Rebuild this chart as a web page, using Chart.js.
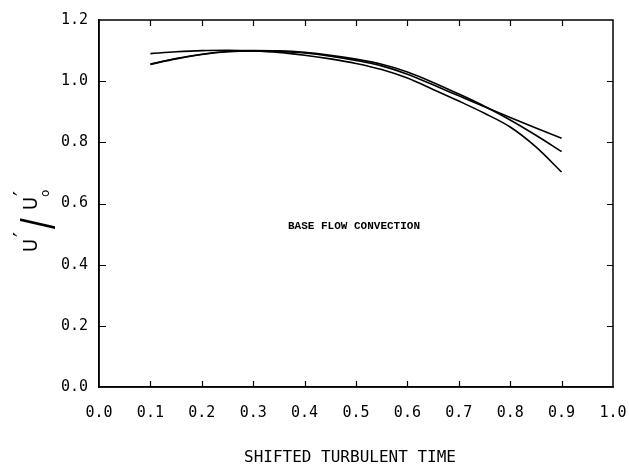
<!DOCTYPE html>
<html>
<head>
<meta charset="utf-8">
<title>Base flow convection</title>
<script src="https://cdn.jsdelivr.net/npm/chart.js@4/dist/chart.umd.min.js"></script>
<style>
  html, body { margin: 0; padding: 0; background: #fff; }
  canvas { display: block; }
</style>
</head>
<body>
<canvas id="uChart" width="629" height="472"></canvas>
<script>
// shifted turbulent time samples
var times = [0.10, 0.15, 0.20, 0.25, 0.30, 0.35, 0.40, 0.45, 0.50, 0.55, 0.60, 0.65, 0.70, 0.75, 0.80, 0.85, 0.90];

// u'/u'o for the three runs
var runA = [1.090, 1.096, 1.100, 1.101, 1.099, 1.094, 1.085, 1.073, 1.058, 1.038, 1.010, 0.973, 0.935, 0.895, 0.850, 0.785, 0.703];
var runB = [1.055, 1.074, 1.088, 1.097, 1.100, 1.099, 1.094, 1.085, 1.072, 1.055, 1.030, 0.996, 0.958, 0.918, 0.873, 0.823, 0.770];
var runC = [1.056, 1.073, 1.087, 1.096, 1.099, 1.097, 1.092, 1.082, 1.068, 1.050, 1.023, 0.988, 0.952, 0.916, 0.881, 0.847, 0.813];

var xTicks = [0.1, 0.2, 0.3, 0.4, 0.5, 0.6, 0.7, 0.8, 0.9];
var yTicks = [0.2, 0.4, 0.6, 0.8, 1.0];

var monoFont = "'DejaVu Sans Mono', monospace";

function toPoints(ys) {
    return times.map(function (t, i) { return { x: t, y: ys[i] }; });
}

function runDataset(ys) {
    return {
        data: toPoints(ys),
        borderColor: '#000',
        borderWidth: 1.6,
        pointRadius: 0,
        fill: false,
        cubicInterpolationMode: 'monotone'
    };
}

// frame, inward tick marks, note and the rotated y label
var framePlugin = {
    id: 'frame',
    afterDraw: function (chart) {
        var ctx = chart.ctx;
        var area = chart.chartArea;
        var xs = chart.scales.x;
        var ys = chart.scales.y;

        ctx.save();
        ctx.strokeStyle = '#000';
        ctx.lineWidth = 1.5;
        ctx.strokeRect(area.left, area.top, area.right - area.left, area.bottom - area.top);

        ctx.lineWidth = 1.2;
        ctx.beginPath();
        xTicks.forEach(function (v) {
            var px = Math.round(xs.getPixelForValue(v)) + 0.5;
            ctx.moveTo(px, area.bottom);
            ctx.lineTo(px, area.bottom - 6);
            ctx.moveTo(px, area.top);
            ctx.lineTo(px, area.top + 6);
        });
        yTicks.forEach(function (v) {
            var py = Math.round(ys.getPixelForValue(v)) + 0.5;
            ctx.moveTo(area.left, py);
            ctx.lineTo(area.left + 7, py);
            ctx.moveTo(area.right, py);
            ctx.lineTo(area.right - 6, py);
        });
        ctx.stroke();

        ctx.fillStyle = '#000';
        ctx.textAlign = 'left';

        // annotation inside the plot
        ctx.font = "bold 11px 'Liberation Mono', monospace";
        ctx.textBaseline = 'middle';
        ctx.fillText('BASE FLOW CONVECTION', 288, 226);

        // x axis title, sits a little left of the plot centre
        ctx.font = "16px " + monoFont;
        ctx.textAlign = 'center';
        ctx.fillText('SHIFTED TURBULENT TIME', 350, 458);
        ctx.textAlign = 'left';

        // y axis label u'/u'o, read bottom to top
        ctx.translate(37, 252);
        ctx.rotate(-Math.PI / 2);
        ctx.textBaseline = 'alphabetic';
        ctx.font = "20px 'DejaVu Sans Condensed', 'DejaVu Sans', sans-serif";
        ctx.fillText('U', 0, 0);
        ctx.fillText('U', 42, 0);
        ctx.font = "22px 'DejaVu Sans', sans-serif";
        ctx.fillText('\u2032', 15, -8);
        ctx.fillText('\u2032', 56, -8);
        ctx.font = "12px 'DejaVu Sans', sans-serif";
        ctx.fillText('o', 55, 12);
        // long thin slash: stretch a normal glyph across the baseline
        ctx.save();
        ctx.translate(23, 14);
        ctx.scale(1.6, 2.1);
        ctx.font = "20px 'DejaVu Sans', sans-serif";
        ctx.fillText('/', 0, 0);
        ctx.restore();
        ctx.restore();
    }
};

var ctx = document.getElementById('uChart').getContext('2d');

var uChart = new Chart(ctx, {
    type: 'line',
    data: {
        datasets: [runDataset(runA), runDataset(runB), runDataset(runC)]
    },
    options: {
        responsive: false,
        animation: false,
        layout: { padding: { top: 18, right: 16, bottom: 0, left: 0 } },
        plugins: {
            legend: { display: false },
            tooltip: { enabled: false }
        },
        scales: {
            x: {
                type: 'linear',
                min: 0,
                max: 1,
                grid: { display: false, drawTicks: false },
                border: { display: true, color: '#000', width: 1.5 },
                ticks: {
                    stepSize: 0.1,
                    padding: 17,
                    color: '#000',
                    font: { family: monoFont, size: 15 },
                    callback: function (v) { return v.toFixed(1); }
                },
                afterFit: function (scale) {
                    scale.height = 85;
                    scale.paddingLeft = 0;
                    scale.paddingRight = 0;
                }
            },
            y: {
                min: 0,
                max: 1.2,
                grid: { display: false, drawTicks: false },
                border: { display: true, color: '#000', width: 1.5 },
                ticks: {
                    stepSize: 0.2,
                    padding: 11,
                    color: '#000',
                    font: { family: monoFont, size: 15 },
                    callback: function (v) { return v.toFixed(1); }
                },
                afterFit: function (scale) { scale.width = 99; }
            }
        }
    },
    plugins: [framePlugin]
});
</script>
</body>
</html>
